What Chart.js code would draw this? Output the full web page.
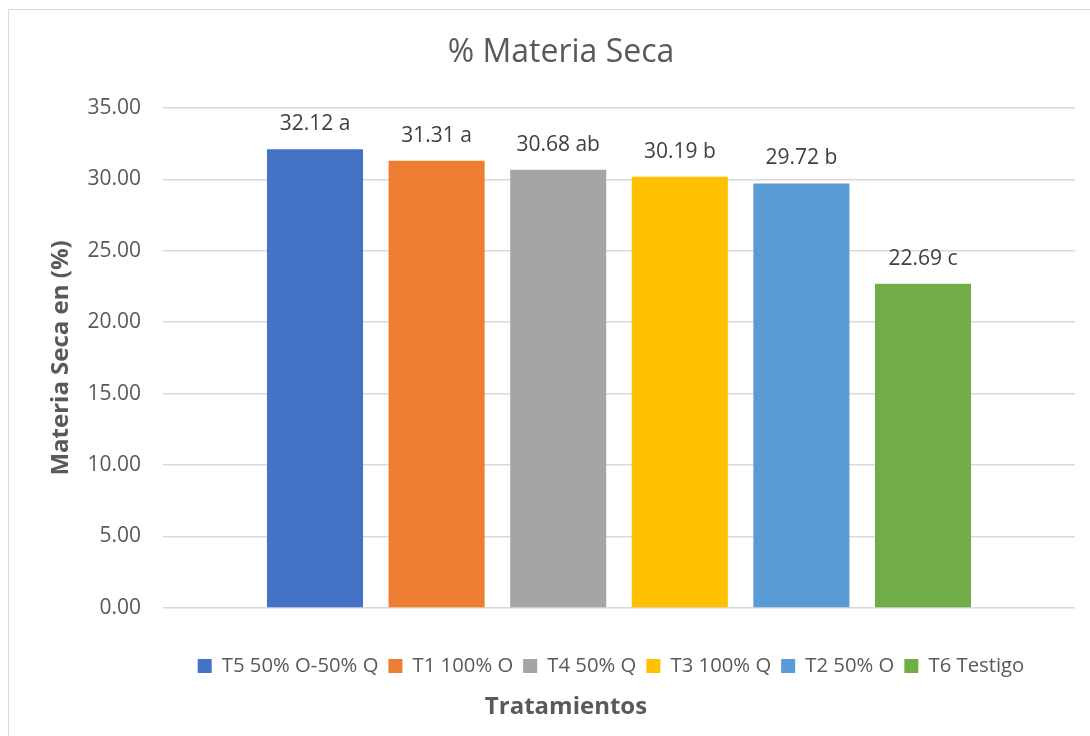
<!DOCTYPE html>
<html>
<head>
<meta charset="utf-8">
<script src="https://cdn.jsdelivr.net/npm/chart.js@4.4.1/dist/chart.umd.min.js"></script>
<style>
  html, body { margin: 0; padding: 0; background: #fff; }
  #wrap { position: relative; width: 1090px; height: 736px; }
  #frame { position: absolute; left: 8px; top: 9px; width: 1100px; height: 760px; border: 1px solid #d9d9d9; box-sizing: border-box; pointer-events: none; }
  canvas { position: absolute; left: 0; top: 0; }
</style>
</head>
<body>
<div id="wrap">
  <canvas id="c" width="1090" height="736"></canvas>
  <div id="frame"></div>
</div>
<script>
const categories = [''];
const seriesNames = ['T5 50% O-50% Q', 'T1 100% O', 'T4 50% Q', 'T3 100% Q', 'T2 50% O', 'T6 Testigo'];
const seriesValues = [32.12, 31.31, 30.68, 30.19, 29.72, 22.69];
const significance = ['a', 'a', 'ab', 'b', 'b', 'c'];
const seriesColors = ['#4472C4', '#ED7D31', '#A5A5A5', '#FFC000', '#5B9BD5', '#70AD47'];
const yTicks = [0, 5, 10, 15, 20, 25, 30, 35];

const FONT = "'Open Sans', 'Noto Sans', sans-serif";
const TEXT = '#595959';

const labelPlugin = {
  id: 'barLabels',
  afterLayout(chart) {
    // centre legend and bottom axis title over the plot like the original
    if (chart.legend) { chart.legend.left += 50; chart.legend.right += 50; }
    const st = chart.boxes.find(b => b.options && b.options.text === 'Tratamientos');
    if (st) { st.left += 5; st.right += 5; }
  },
  afterDatasetsDraw(chart) {
    const ctx = chart.ctx;
    ctx.save();
    ctx.font = "21px " + FONT;
    ctx.fillStyle = '#404040';
    ctx.textAlign = 'center';
    ctx.textBaseline = 'middle';
    chart.data.datasets.forEach((ds, i) => {
      const meta = chart.getDatasetMeta(i);
      meta.data.forEach((bar, j) => {
        const txt = ds.data[j].toFixed(2) + ' ' + significance[i];
        ctx.fillText(txt, bar.x, bar.y - 25);
      });
    });
    ctx.restore();
  }
};

new Chart(document.getElementById('c'), {
  type: 'bar',
  data: {
    labels: categories,
    datasets: seriesNames.map((name, i) => ({
      label: name,
      data: [seriesValues[i]],
      backgroundColor: seriesColors[i],
      borderWidth: 0,
      categoryPercentage: 0.8,
      barPercentage: 0.79
    }))
  },
  options: {
    responsive: false,
    animation: false,
    devicePixelRatio: 1,
    layout: { padding: { left: 47, right: 15, top: 0, bottom: 0 } },
    plugins: {
      tooltip: { enabled: false },
      title: {
        display: true,
        text: '% Materia Seca',
        color: TEXT,
        font: { family: FONT, size: 32, weight: 'normal' },
        padding: { top: 34, bottom: 35.6 }
      },
      subtitle: {
        display: true,
        position: 'bottom',
        text: 'Tratamientos',
        color: TEXT,
        font: { family: FONT, size: 24, weight: 'bold' },
        padding: { top: 7, bottom: 14 }
      },
      legend: {
        position: 'bottom',
        labels: {
          color: TEXT,
          font: { family: FONT, size: 20.3 },
          boxWidth: 14,
          boxHeight: 14,
          padding: 10
        }
      }
    },
    scales: {
      x: {
        grid: { display: false },
        border: { display: false },
        ticks: { display: false },
        afterFit(scale) { scale.height = 38; }
      },
      y: {
        min: 0,
        max: 35,
        afterBuildTicks(scale) { scale.ticks = yTicks.map(v => ({ value: v })); },
        afterFit(scale) { scale.width = 116; },
        grid: { color: '#d9d9d9', lineWidth: 1.5, drawTicks: false },
        border: { display: false },
        ticks: {
          color: TEXT,
          font: { family: FONT, size: 21 },
          padding: 22,
          callback: v => Number(v).toFixed(2)
        },
        title: {
          display: true,
          text: 'Materia Seca en (%)',
          color: TEXT,
          font: { family: FONT, size: 24, weight: 'bold' },
          padding: { top: 0, bottom: 7 }
        }
      }
    }
  },
  plugins: [labelPlugin]
});
</script>
</body>
</html>
